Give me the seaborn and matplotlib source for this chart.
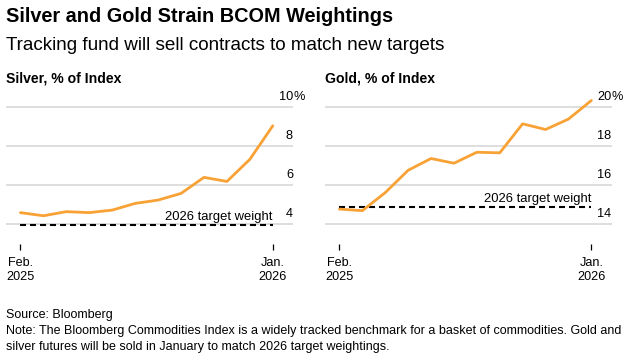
import numpy as np
import pandas as pd
import matplotlib
matplotlib.use("Agg")
import matplotlib.pyplot as plt
import seaborn as sns
from matplotlib.transforms import blended_transform_factory

sns.set_theme(style="white")
plt.rcParams['font.family'] = ['Liberation Sans', 'DejaVu Sans']
plt.rcParams['text.color'] = 'black'
plt.rcParams['xtick.color'] = 'black'

# monthly index weights, Feb 2025 .. Jan 2026
months = ["2025-02", "2025-03", "2025-04", "2025-05", "2025-06", "2025-07",
          "2025-08", "2025-09", "2025-10", "2025-11", "2025-12", "2026-01"]
silver = [4.60, 4.44, 4.65, 4.60, 4.73, 5.07, 5.24, 5.58, 6.40, 6.19, 7.32, 9.03]
gold = [14.78, 14.70, 15.62, 16.76, 17.36, 17.12, 17.68, 17.65, 19.13, 18.84, 19.37, 20.32]
silver_target = 3.95
gold_target = 14.90
silver_ticks = [4, 6, 8, 10]
gold_ticks = [14, 16, 18, 20]
x_labels = [("Feb.", "2025"), ("Jan.", "2026")]

ORANGE = "#f8a236"
GRID = "#d4d4d4"

df = pd.DataFrame({"idx": np.arange(len(months)), "month": months,
                   "silver": silver, "gold": gold})

fig = plt.figure(figsize=(6.28, 3.61), dpi=100)
W, H = 628, 361


def px_axes(x0, x1, y0, y1):
    return fig.add_axes([x0 / W, 1 - y1 / H, (x1 - x0) / W, (y1 - y0) / H])


def fig_text(x, y, s, **kw):
    # x, y in pixels from top-left, y is the text baseline
    return fig.text(x / W, 1 - y / H, s, va="baseline", **kw)


panels = [
    (px_axes(6, 293, 95, 244), "silver", silver_target, silver_ticks, (3.0, 10.6), "Silver, % of Index", 6),
    (px_axes(325, 611.5, 95, 244), "gold", gold_target, gold_ticks, (13.0, 20.6), "Gold, % of Index", 325),
]

for ax, col, target, ticks, ylim, label, x0 in panels:
    ax.set_facecolor("white")
    for t in ticks:
        ax.axhline(t, color=GRID, lw=1.1, zorder=0)
    ax.plot([0, len(months) - 1], [target, target], color="black", lw=1.5,
            ls=(0, (2.9, 1.9)), zorder=2)
    sns.lineplot(data=df, x="idx", y=col, ax=ax, color=ORANGE, lw=2.0, zorder=3)
    ax.set_xlim(-0.63, 11.88)
    ax.set_ylim(*ylim)
    for s in ax.spines.values():
        s.set_visible(False)
    ax.set_yticks([])
    ax.set_xticks([0, len(months) - 1])
    ax.set_xticklabels([])
    ax.tick_params(axis="x", length=4.3, width=0.9, color="black", bottom=True)
    ax.set_xlabel("")
    ax.set_ylabel("")

    # x tick labels, two lines each
    trx = blended_transform_factory(ax.transData, fig.transFigure)
    for xi, (l1, l2) in zip([0, len(months) - 1], x_labels):
        ax.text(xi, 1 - 266 / H, l1, transform=trx, ha="center", va="baseline", fontsize=9.1)
        ax.text(xi, 1 - 280.5 / H, l2, transform=trx, ha="center", va="baseline", fontsize=9.1)

    # value labels sitting above the gridlines at the right edge
    tr = blended_transform_factory(ax.transAxes, ax.transData)
    for t in ticks:
        ax.text(1.0, t + 0.36, f"{t}", transform=tr, ha="right", va="baseline",
                fontsize=9.2, clip_on=False)
    ax.text(1.0, ticks[-1] + 0.36, "%", transform=tr, ha="left", va="baseline",
            fontsize=9.2, clip_on=False)
    ax.text(len(months) - 1, target + 0.26, "2026 target weight", ha="right",
            va="baseline", fontsize=9.4)

    fig_text(x0, 82.5, label, fontsize=10.1, fontweight="bold")

fig_text(6, 22.5, "Silver and Gold Strain BCOM Weightings", fontsize=14.3, fontweight="bold")
fig_text(6, 49.5, "Tracking fund will sell contracts to match new targets", fontsize=13.6)
fig_text(6, 318, "Source: Bloomberg", fontsize=9.0)
fig_text(6, 334, "Note: The Bloomberg Commodities Index is a widely tracked benchmark for a basket "
                 "of commodities. Gold and", fontsize=9.0)
fig_text(6, 350, "silver futures will be sold in January to match 2026 target weightings.", fontsize=9.0)

fig.savefig("out.png", dpi=100)
